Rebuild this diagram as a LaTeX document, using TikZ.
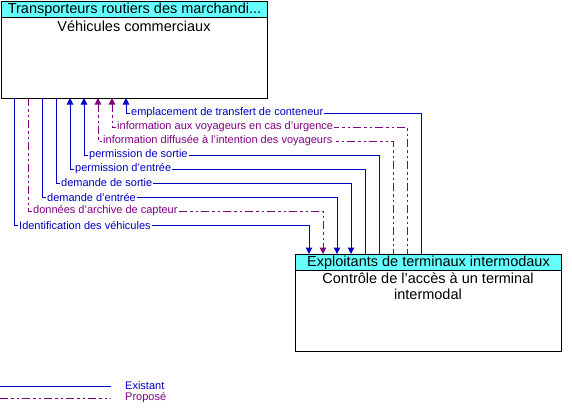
\documentclass[tikz,border=0pt]{standalone}
\usepackage{fontspec}
\setmainfont{Liberation Sans}
\usetikzlibrary{arrows.meta}

\definecolor{exblue}{RGB}{0,0,192}
\definecolor{prpurple}{RGB}{128,0,128}
\definecolor{hdcyan}{RGB}{102,255,255}

\begin{document}
\begin{tikzpicture}[x=1pt,y=-1pt,
    flowtip/.tip={Triangle[length=6.5pt,width=6.5pt]},
    existant/.style={exblue,line width=1pt},
    propose/.style={prpurple,line width=1pt,dash pattern=on 8pt off 3pt on 2.5pt off 3pt on 2.5pt off 3pt},
    box/.style={draw,line width=1pt,inner sep=0pt,anchor=north west,minimum width=266pt,minimum height=97pt},
    boxhead/.style={draw,line width=1pt,fill=hdcyan,inner sep=0pt,anchor=north west,minimum width=266pt,minimum height=16pt,font=\fontsize{14.5}{16}\selectfont},
    boxtext/.style={align=center,font=\fontsize{14.5}{16}\selectfont},
    lbl/.style={anchor=west,fill=white,inner sep=1pt,font=\fontsize{11}{12}\selectfont}]

    \useasboundingbox (0,0) rectangle (572,418);

    % commercial vehicles (top box)
    \node[box] (vc) at (1,1) {};
    \node[boxhead] (vchead) at (1,1) {Transporteurs routiers des marchandi...};
    \node[boxtext] (vctext) at (134,26) {Véhicules commerciaux};

    % intermodal terminal access (bottom box)
    \node[box] (ct) at (295,254) {};
    \node[boxhead] (cthead) at (295,254) {Exploitants de terminaux intermodaux};
    \node[boxtext] (cttext) at (428,286) {Contrôle de l’accès à un terminal\\intermodal};

    %%%%%%%%%%%%%%%%%%%%%%%%%%%%%%%%%%%%%%%%%%%%%%%%%%%%%%

    % emplacement de transfert de conteneur
    \coordinate (t1) at (126,98); \coordinate (k1) at (421,113); \coordinate (b1) at (421,254);
    \draw[existant,{flowtip}-] (t1) |- (k1) -- (b1);

    % information aux voyageurs en cas d'urgence
    \coordinate (t2) at (112,98); \coordinate (k2) at (407,127); \coordinate (b2) at (407,254);
    \draw[propose,{flowtip}-] (t2) |- (k2) -- (b2);

    % information diffusee
    \coordinate (t3) at (98,98); \coordinate (k3) at (393,141); \coordinate (b3) at (393,254);
    \draw[propose,{flowtip}-] (t3) |- (k3) -- (b3);

    % permission de sortie
    \coordinate (t4) at (84,98); \coordinate (k4) at (379,155); \coordinate (b4) at (379,254);
    \draw[existant,{flowtip}-] (t4) |- (k4) -- (b4);

    % permission d'entree
    \coordinate (t5) at (70,98); \coordinate (k5) at (365,169); \coordinate (b5) at (365,254);
    \draw[existant,{flowtip}-] (t5) |- (k5) -- (b5);

    % demande de sortie
    \coordinate (t6) at (56,98); \coordinate (k6) at (351,183); \coordinate (b6) at (351,254);
    \draw[existant,-{flowtip}] (t6) |- (k6) -- (b6);

    % demande d'entree
    \coordinate (t7) at (42,98); \coordinate (k7) at (337,197); \coordinate (b7) at (337,254);
    \draw[existant,-{flowtip}] (t7) |- (k7) -- (b7);

    % donnees d'archive de capteur
    \coordinate (t8) at (28,98); \coordinate (k8) at (323,211); \coordinate (b8) at (323,254);
    \draw[propose,-{flowtip}] (t8) |- (k8) -- (b8);

    % identification des vehicules
    \coordinate (t9) at (14,98); \coordinate (k9) at (309,225); \coordinate (b9) at (309,254);
    \draw[existant,-{flowtip}] (t9) |- (k9) -- (b9);

    %%%%%%%%%%%%%%%%%%%%%%%%%%%%%%%%%%%%%%%%%%%%%%%%%%%%%%

    % flow labels
    \node[lbl,text=exblue] (l1) at (130,113) {emplacement de transfert de conteneur};
    \node[lbl,text=prpurple] (l2) at (116,127) {information aux voyageurs en cas d'urgence};
    \node[lbl,text=prpurple] (l3) at (102,141) {information diffusée à l'intention des voyageurs};
    \node[lbl,text=exblue] (l4) at (88,155) {permission de sortie};
    \node[lbl,text=exblue] (l5) at (74,169) {permission d'entrée};
    \node[lbl,text=exblue] (l6) at (60,183) {demande de sortie};
    \node[lbl,text=exblue] (l7) at (46,197) {demande d'entrée};
    \node[lbl,text=prpurple] (l8) at (32,211) {données d'archive de capteur};
    \node[lbl,text=exblue] (l9) at (18,225) {Identification des véhicules};

    %%%%%%%%%%%%%%%%%%%%%%%%%%%%%%%%%%%%%%%%%%%%%%%%%%%%%%

    % legend
    \coordinate (exa) at (0,386); \coordinate (exb) at (111,386);
    \draw[existant] (exa) -- (exb);
    \node[lbl,fill=none,text=exblue] (exlbl) at (124,386) {Existant};

    \coordinate (pra) at (0,398); \coordinate (prb) at (111,398);
    \draw[propose] (pra) -- (prb);
    \node[lbl,fill=none,text=prpurple] (prlbl) at (124,398) {Proposé};

\end{tikzpicture}
\end{document}
